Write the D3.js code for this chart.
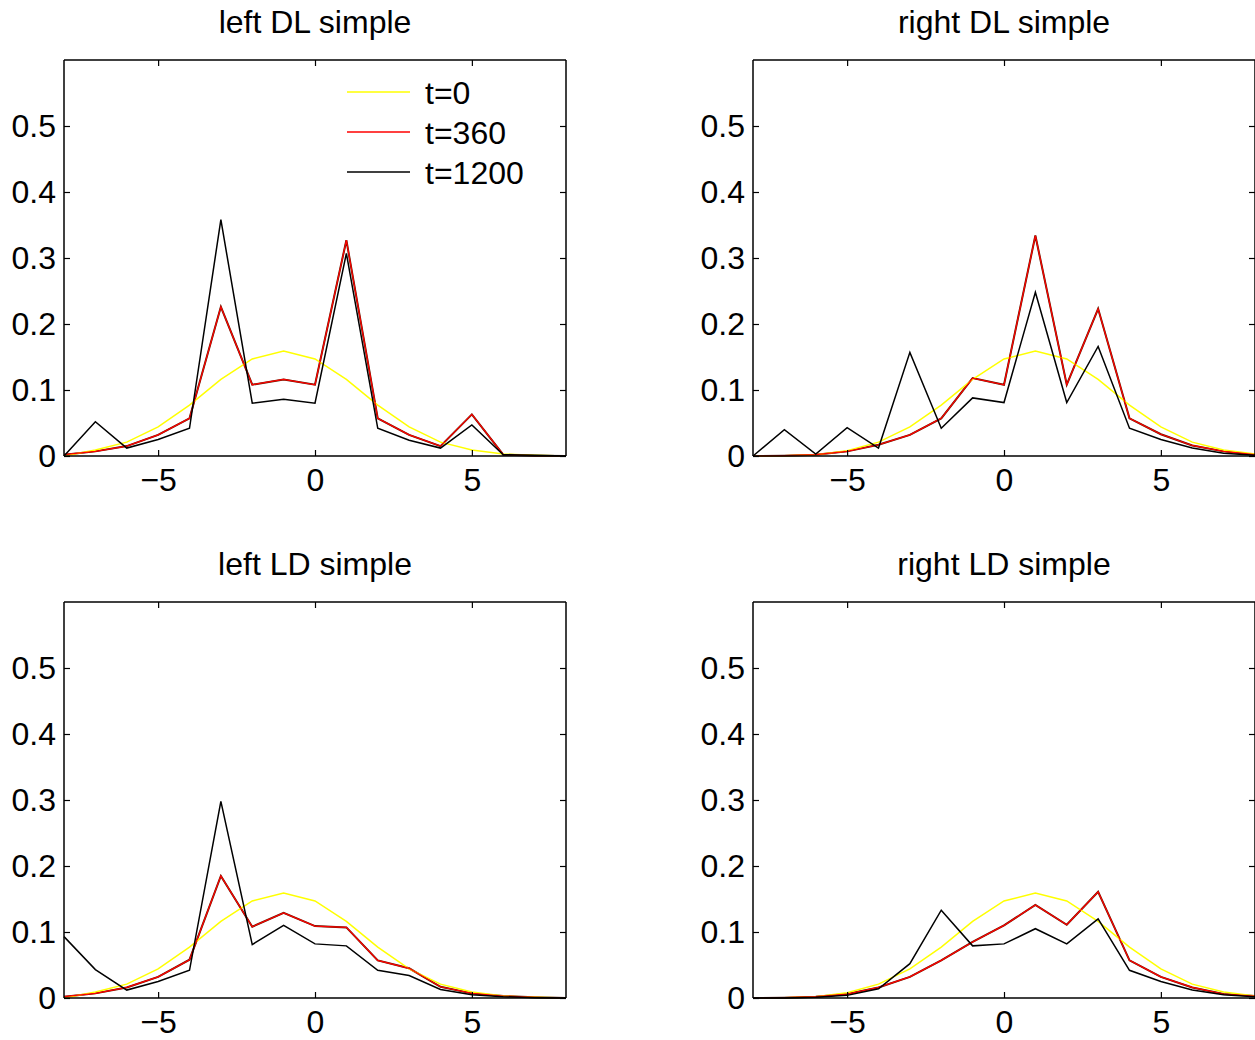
<!DOCTYPE html>
<html>
<head>
<meta charset="utf-8">
<script src="https://cdn.jsdelivr.net/npm/d3@7"></script>
<style>
  body { margin: 0; background: #fff; }
  text { font-family: "Liberation Sans", Arial, Helvetica, sans-serif; fill: #000; }
</style>
</head>
<body>
<script>
// positions along x (bins)
var xs = [-8, -7, -6, -5, -4, -3, -2, -1, 0, 1, 2, 3, 4, 5, 6, 7, 8];
var xTicks = [-5, 0, 5];
var yTicks = [0, 0.1, 0.2, 0.3, 0.4, 0.5];
var seriesNames = ["t=0", "t=360", "t=1200"];
var titles = ["left DL simple", "right DL simple", "left LD simple", "right LD simple"];

// t=0 start profiles
var startLeft  = [0, 0.009, 0.021, 0.044, 0.077, 0.116, 0.147, 0.159, 0.147, 0.116, 0.077, 0.044, 0.021, 0.009, 0.003, 0.001, 0];
var startRight = [0, 0.0005, 0.002, 0.008, 0.021, 0.044, 0.077, 0.116, 0.147, 0.159, 0.147, 0.116, 0.077, 0.044, 0.021, 0.009, 0.003];

var leftDL_360  = [0.002, 0.007, 0.015, 0.032, 0.057, 0.226, 0.108, 0.116, 0.108, 0.327, 0.057, 0.032, 0.015, 0.063, 0.002, 0.0005, 0];
var leftDL_1200 = [0, 0.052, 0.012, 0.025, 0.042, 0.358, 0.080, 0.086, 0.080, 0.307, 0.042, 0.024, 0.012, 0.047, 0.002, 0.001, 0];

var rightDL_360  = [0, 0.0005, 0.002, 0.007, 0.017, 0.032, 0.057, 0.118, 0.108, 0.334, 0.108, 0.223, 0.057, 0.033, 0.016, 0.007, 0.002];
var rightDL_1200 = [0, 0.040, 0.003, 0.043, 0.012, 0.157, 0.042, 0.088, 0.081, 0.248, 0.081, 0.166, 0.042, 0.025, 0.012, 0.004, 0.001];

var leftLD_360  = [0.002, 0.007, 0.016, 0.032, 0.058, 0.185, 0.108, 0.129, 0.109, 0.107, 0.057, 0.045, 0.017, 0.007, 0.003, 0.001, 0];
var leftLD_1200 = [0.093, 0.043, 0.012, 0.025, 0.042, 0.298, 0.081, 0.110, 0.082, 0.079, 0.042, 0.034, 0.013, 0.005, 0.002, 0.0005, 0];

var rightLD_360  = [0, 0.0005, 0.002, 0.006, 0.016, 0.032, 0.057, 0.085, 0.110, 0.141, 0.111, 0.161, 0.057, 0.032, 0.016, 0.006, 0.003];
var rightLD_1200 = [0, 0, 0.001, 0.004, 0.014, 0.052, 0.133, 0.079, 0.082, 0.105, 0.082, 0.120, 0.042, 0.025, 0.012, 0.005, 0.002];

var panels = [
  {title: titles[0], left: 64,  top: 60,  series: [startLeft,  leftDL_360,  leftDL_1200], legend: true},
  {title: titles[1], left: 753, top: 60,  series: [startRight, rightDL_360, rightDL_1200]},
  {title: titles[2], left: 64,  top: 602, series: [startLeft,  leftLD_360,  leftLD_1200]},
  {title: titles[3], left: 753, top: 602, series: [startRight, rightLD_360, rightLD_1200]}
];

var colors = ["#ffff00", "#ff0000", "#000000"];
var width = 502, height = 396;
var fontSize = 32;

var svg = d3.select("body")
  .append("svg")
    .attr("width", 1255)
    .attr("height", 1040);

panels.forEach(function(p) {
  var g = svg.append("g")
    .attr("transform", "translate(" + p.left + "," + p.top + ")");

  var x = d3.scaleLinear().domain([-8, 8]).range([0, width]);
  var y = d3.scaleLinear().domain([0, 0.6]).range([height, 0]);

  var line = d3.line()
    .x(function(d, i) { return x(xs[i]); })
    .y(function(d) { return y(d); });

  var lines = g.append("g");

  // red line sits on a dark trace in the original
  lines.append("path")
    .datum(p.series[1])
    .attr("d", line)
    .attr("fill", "none")
    .attr("stroke", "#5a1a00")
    .attr("stroke-width", 2.0);

  p.series.forEach(function(s, k) {
    lines.append("path")
      .datum(s)
      .attr("d", line)
      .attr("fill", "none")
      .attr("stroke", colors[k])
      .attr("stroke-width", k == 1 ? 1.2 : 1.5);
  });

  // box + inward ticks like matlab
  var bottom = g.append("g")
    .attr("transform", "translate(0," + height + ")")
    .call(d3.axisBottom(x).tickValues(xTicks).tickSize(-6).tickPadding(12)
      .tickFormat(function(d) { return d < 0 ? "\u2212" + Math.abs(d) : d; }));
  var topAx = g.append("g")
    .call(d3.axisTop(x).tickValues(xTicks).tickSize(-6).tickFormat(""));
  var leftAx = g.append("g")
    .call(d3.axisLeft(y).tickValues(yTicks).tickSize(-6).tickPadding(8)
      .tickFormat(function(d) { return d == 0 ? "0" : d3.format(".1f")(d); }));
  var rightAx = g.append("g")
    .attr("transform", "translate(" + width + ",0)")
    .call(d3.axisRight(y).tickValues(yTicks).tickSize(-6).tickFormat(""));

  [bottom, topAx, leftAx, rightAx].forEach(function(a) {
    a.select(".domain").attr("stroke", "#000").attr("stroke-width", 1.5);
    a.selectAll(".tick line").attr("stroke", "#000").attr("stroke-width", 1.2);
    a.selectAll("text")
      .style("font-size", fontSize + "px")
      .style("font-family", "'Liberation Sans', Arial, sans-serif")
      .attr("fill", "#000");
  });
  bottom.selectAll("text").attr("dy", "0.71em");
  bottom.select(".domain").attr("d", "M0,0H" + width);
  topAx.select(".domain").attr("d", "M0,0H" + width);
  leftAx.select(".domain").attr("d", "M0,0V" + height);
  rightAx.select(".domain").attr("d", "M0,0V" + height);

  g.append("text")
    .attr("x", width / 2)
    .attr("y", -27)
    .style("text-anchor", "middle")
    .style("font-size", fontSize + "px")
    .text(p.title);

  if (p.legend) {
    var leg = g.append("g")
      .attr("transform", "translate(283,32)");
    seriesNames.forEach(function(name, k) {
      var row = leg.append("g").attr("transform", "translate(0," + (k * 40) + ")");
      row.append("line")
        .attr("x1", 0).attr("x2", 63)
        .attr("stroke", colors[k])
        .attr("stroke-width", 1.4);
      row.append("text")
        .attr("x", 78)
        .attr("dy", "0.36em")
        .style("font-size", fontSize + "px")
        .text(name);
    });
  }
});
</script>
</body>
</html>
